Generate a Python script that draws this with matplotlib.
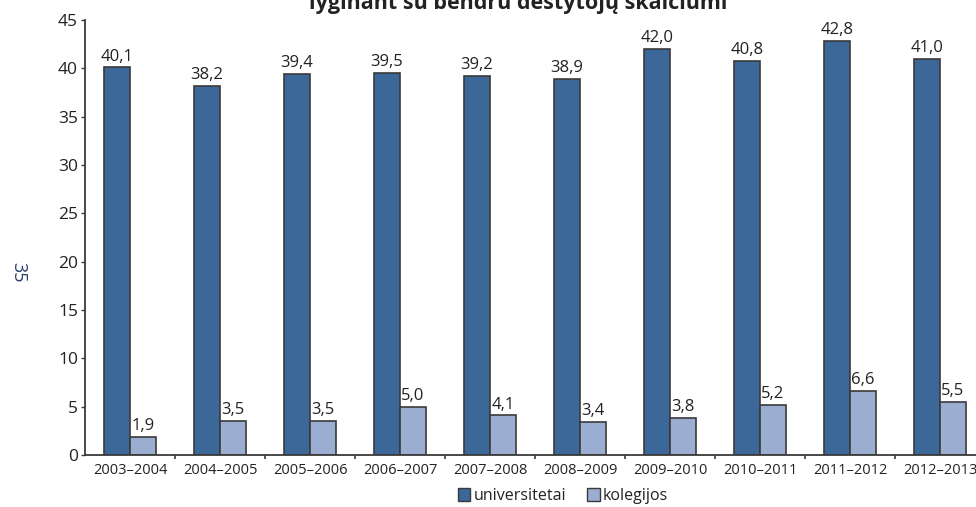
import matplotlib.pyplot as plt
import numpy as np
from matplotlib.patches import Patch

plt.rcParams["font.family"] = ["Open Sans", "DejaVu Sans"]

years = ["2003–2004", "2004–2005", "2005–2006", "2006–2007", "2007–2008",
         "2008–2009", "2009–2010", "2010–2011", "2011–2012", "2012–2013"]
universitetai = [40.1, 38.2, 39.4, 39.5, 39.2, 38.9, 42.0, 40.8, 42.8, 41.0]
kolegijos = [1.9, 3.5, 3.5, 5.0, 4.1, 3.4, 3.8, 5.2, 6.6, 5.5]
y_ticks = [0, 5, 10, 15, 20, 25, 30, 35, 40, 45]

dark = "#3b6899"
light = "#9badd0"
edge = "#3a3a3a"
text_col = "#222222"

W, H = 976, 507
fig = plt.figure(figsize=(W / 100, H / 100), dpi=100)
# axes run past the right edge, as in the cropped original
ax = fig.add_axes([85 / W, 52 / H, 900 / W, 435 / H])

x = np.arange(len(years))
bw = 26 / 90
ax.bar(x - bw / 2, universitetai, bw, color=dark, edgecolor=edge, linewidth=1.2)
ax.bar(x + bw / 2, kolegijos, bw, color=light, edgecolor=edge, linewidth=1.2)

for xi, v in zip(x, universitetai):
    ax.annotate(f"{v:.1f}".replace(".", ","), (xi - bw / 2, v), xytext=(0, 2),
                textcoords="offset points", ha="center", va="bottom",
                fontsize=12, color=text_col)
for xi, v in zip(x, kolegijos):
    ax.annotate(f"{v:.1f}".replace(".", ","), (xi + bw / 2, v), xytext=(0, 2),
                textcoords="offset points", ha="center", va="bottom",
                fontsize=12, color=text_col)

ax.set_xlim(-0.5, len(years) - 0.5)
ax.set_ylim(0, 45)
ax.set_yticks(y_ticks)
ax.set_yticklabels([str(t) for t in y_ticks], fontsize=12.5, color=text_col)
ax.set_xticks(x)
ax.set_xticklabels(years, fontsize=10.5, color=text_col)
ax.tick_params(axis="x", length=0, pad=6)
ax.set_xticks(x[1:] - 0.5, minor=True)
ax.tick_params(axis="x", which="minor", length=3, width=1.2, color=edge)
ax.tick_params(axis="y", length=3, width=1, color=edge, pad=2)

for s in ["top", "right"]:
    ax.spines[s].set_visible(False)
for s in ["left", "bottom"]:
    ax.spines[s].set_color(edge)
    ax.spines[s].set_linewidth(1.3)

handles = [Patch(facecolor=dark, edgecolor=edge, label="universitetai"),
           Patch(facecolor=light, edgecolor=edge, label="kolegijos")]
fig.legend(handles=handles, loc="center", bbox_to_anchor=(563 / W, 1 - 496 / H),
           ncol=2, frameon=False, fontsize=11.5, handlelength=0.8,
           handleheight=0.8, handletextpad=0.2, columnspacing=1.3,
           labelcolor=text_col)

# title is cut by the top edge of the page crop
fig.text(518 / W, 1 - 9 / H, "lyginant su bendru dėstytojų skaičiumi",
         ha="center", va="baseline", fontsize=15.5, fontweight="bold",
         color=text_col)
# page number
fig.text(18 / W, 1 - 272 / H, "35", rotation=270, ha="center", va="center",
         fontsize=13, color="#2a3f6a")

fig.savefig("out.png", dpi=100)
